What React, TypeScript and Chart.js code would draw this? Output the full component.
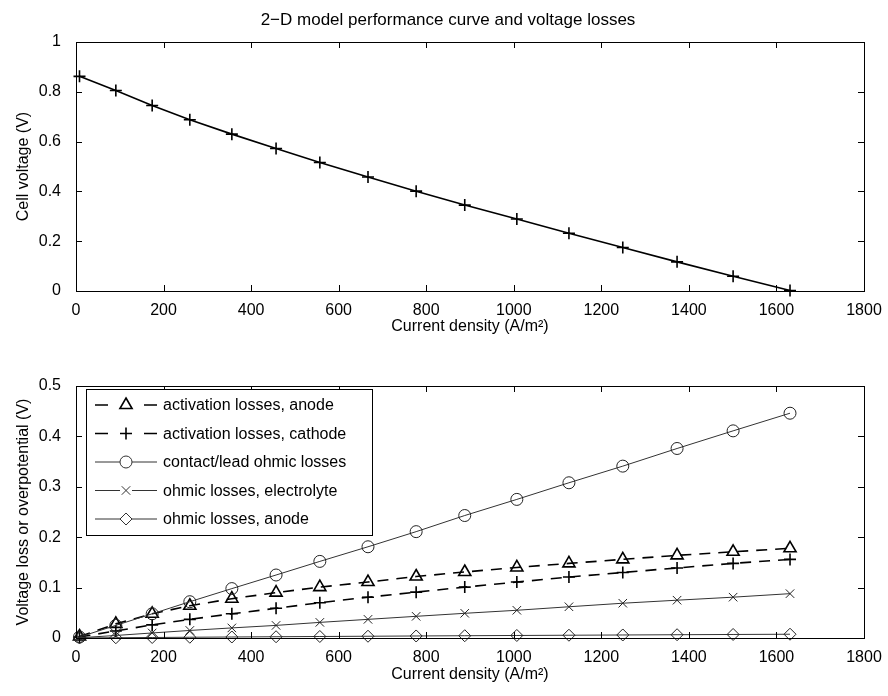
import React, { useEffect, useRef } from 'react';
import { Chart, registerables } from 'chart.js';

Chart.register(...registerables);

// ---------- data ----------
const currentDensity = [8, 91, 174, 260, 356, 457, 557, 667, 777, 888, 1007, 1126, 1249, 1373, 1501, 1631];
const cellVoltage = [0.862, 0.805, 0.745, 0.688, 0.63, 0.572, 0.516, 0.458, 0.401, 0.345, 0.289, 0.232, 0.175, 0.117, 0.059, 0.002];
const actAnode = [0.003, 0.028, 0.048, 0.064, 0.078, 0.09, 0.101, 0.111, 0.122, 0.131, 0.14, 0.148, 0.156, 0.164, 0.171, 0.178];
const actCathode = [0.002, 0.014, 0.026, 0.037, 0.048, 0.059, 0.07, 0.081, 0.091, 0.101, 0.111, 0.121, 0.13, 0.139, 0.148, 0.156];
const contactOhmic = [0.002, 0.025, 0.048, 0.072, 0.098, 0.125, 0.152, 0.181, 0.211, 0.243, 0.275, 0.308, 0.341, 0.376, 0.411, 0.446];
const ohmicElectrolyte = [0.0005, 0.005, 0.01, 0.015, 0.02, 0.025, 0.031, 0.037, 0.043, 0.049, 0.055, 0.062, 0.069, 0.075, 0.081, 0.088];
const ohmicAnode = [0.0001, 0.0005, 0.001, 0.0015, 0.002, 0.0025, 0.003, 0.0035, 0.004, 0.0045, 0.005, 0.0055, 0.006, 0.0065, 0.007, 0.0075];

const xTicks = [0, 200, 400, 600, 800, 1000, 1200, 1400, 1600, 1800];
const topYTicks = [0, 0.2, 0.4, 0.6, 0.8, 1];
const bottomYTicks = [0, 0.1, 0.2, 0.3, 0.4, 0.5];

const titleText = '2\u2212D model performance curve and voltage losses';
const xTitleText = 'Current density (A/m\u00B2)';
const topYTitleText = 'Cell voltage (V)';
const bottomYTitleText = 'Voltage loss or overpotential (V)';
const legendLabels = [
  'activation losses, anode',
  'activation losses, cathode',
  'contact/lead ohmic losses',
  'ohmic losses, electrolyte',
  'ohmic losses, anode',
];
const legendStyles = ['triangle', 'cross', 'circle', 'crossRot', 'rectRot'];
const legendDashed = [true, true, false, false, false];

// ---------- styling ----------
const FONT_FAMILY = '"Liberation Sans", Arial, Helvetica, sans-serif';
const FONT_SIZE = 16;
const W = 888;
const TOP_H = 345;
const BOT_H = 351;

function drawMarker(ctx: CanvasRenderingContext2D, style: string, x: number, y: number, r: number) {
  ctx.beginPath();
  if (style === 'triangle') {
    ctx.moveTo(x, y - r);
    ctx.lineTo(x + r * 0.866, y + r * 0.5);
    ctx.lineTo(x - r * 0.866, y + r * 0.5);
    ctx.closePath();
  } else if (style === 'cross') {
    ctx.moveTo(x - r, y);
    ctx.lineTo(x + r, y);
    ctx.moveTo(x, y - r);
    ctx.lineTo(x, y + r);
  } else if (style === 'circle') {
    ctx.arc(x, y, r, 0, Math.PI * 2);
  } else if (style === 'crossRot') {
    const d = r * 0.707;
    ctx.moveTo(x - d, y - d);
    ctx.lineTo(x + d, y + d);
    ctx.moveTo(x + d, y - d);
    ctx.lineTo(x - d, y + d);
  } else if (style === 'rectRot') {
    ctx.moveTo(x, y - r);
    ctx.lineTo(x + r, y);
    ctx.lineTo(x, y + r);
    ctx.lineTo(x - r, y);
    ctx.closePath();
  }
  ctx.stroke();
}

function makeFramePlugin(cfg: {
  title?: string;
  yTitle: string;
  yTicks: number[];
  xTitleOffset: number;
  legend?: boolean;
}) {
  return {
    id: 'matlabFrame',
    afterDraw(chart: any) {
      const ctx: CanvasRenderingContext2D = chart.ctx;
      const { left, right, top, bottom } = chart.chartArea;
      const xs = chart.scales.x;
      const ys = chart.scales.y;
      ctx.save();
      // box
      ctx.strokeStyle = '#000';
      ctx.lineWidth = 1;
      ctx.strokeRect(Math.round(left) + 0.5, Math.round(top) + 0.5, Math.round(right - left), Math.round(bottom - top));
      // inward ticks
      const tl = 6;
      ctx.beginPath();
      xTicks.forEach((v) => {
        const px = Math.round(xs.getPixelForValue(v)) + 0.5;
        ctx.moveTo(px, bottom);
        ctx.lineTo(px, bottom - tl);
        ctx.moveTo(px, top);
        ctx.lineTo(px, top + tl);
      });
      cfg.yTicks.forEach((v) => {
        const py = Math.round(ys.getPixelForValue(v)) + 0.5;
        ctx.moveTo(left, py);
        ctx.lineTo(left + tl, py);
        ctx.moveTo(right, py);
        ctx.lineTo(right - tl, py);
      });
      ctx.stroke();

      ctx.fillStyle = '#000';
      ctx.font = `${FONT_SIZE}px ${FONT_FAMILY}`;
      ctx.textAlign = 'center';
      ctx.textBaseline = 'middle';
      const midX = (left + right) / 2;
      // title
      if (cfg.title) {
        ctx.save();
        ctx.font = `17px ${FONT_FAMILY}`;
        ctx.fillText(cfg.title, midX - 22, 20);
        ctx.restore();
      }
      // x title
      ctx.fillText(xTitleText, midX, bottom + cfg.xTitleOffset);
      // y title
      ctx.save();
      ctx.translate(24, (top + bottom) / 2);
      ctx.rotate(-Math.PI / 2);
      ctx.fillText(cfg.yTitle, 0, 0);
      ctx.restore();

      // legend
      if (cfg.legend) {
        const bx = 86;
        const by = top + 3;
        const bw = 286;
        const bh = 146;
        ctx.fillStyle = '#fff';
        ctx.fillRect(bx, by, bw, bh);
        ctx.strokeStyle = '#000';
        ctx.lineWidth = 1;
        ctx.strokeRect(bx + 0.5, by + 0.5, bw, bh);
        legendLabels.forEach((label, i) => {
          const y = by + 16 + i * 28.5;
          const x0 = bx + 9;
          const x1 = bx + 71;
          const mx = (x0 + x1) / 2;
          ctx.strokeStyle = legendDashed[i] ? '#000' : '#333';
          ctx.lineWidth = legendDashed[i] ? 1.6 : 1;
          ctx.beginPath();
          if (legendDashed[i]) {
            ctx.moveTo(x0, y);
            ctx.lineTo(x0 + 13, y);
            ctx.moveTo(x1 - 13, y);
            ctx.lineTo(x1, y);
          } else {
            ctx.moveTo(x0, y);
            ctx.lineTo(mx - 6, y);
            ctx.moveTo(mx + 6, y);
            ctx.lineTo(x1, y);
          }
          ctx.stroke();
          const r = legendStyles[i] === 'triangle' ? 7 : 6;
          drawMarker(ctx, legendStyles[i], mx, y, r);
          ctx.fillStyle = '#000';
          ctx.textAlign = 'left';
          ctx.fillText(label, bx + 77, y + 1);
        });
      }
      ctx.restore();
    },
  };
}

function makeScales(yTicks: number[], yMax: number, xHeight: number) {
  const font = { family: FONT_FAMILY, size: FONT_SIZE };
  return {
    x: {
      type: 'linear' as const,
      min: 0,
      max: 1800,
      afterBuildTicks: (s: any) => {
        s.ticks = xTicks.map((v) => ({ value: v }));
      },
      afterFit: (s: any) => {
        s.height = xHeight;
      },
      ticks: {
        callback: (v: any) => String(v),
        font,
        color: '#000',
        padding: 2,
        maxRotation: 0,
        autoSkip: false,
      },
      grid: { display: false },
      border: { display: false },
    },
    y: {
      type: 'linear' as const,
      min: 0,
      max: yMax,
      afterBuildTicks: (s: any) => {
        s.ticks = yTicks.map((v) => ({ value: v }));
      },
      afterFit: (s: any) => {
        s.width = 76;
      },
      ticks: {
        callback: (v: any) => String(v),
        font,
        color: '#000',
        padding: 7,
        autoSkip: false,
      },
      grid: { display: false },
      border: { display: false },
    },
  };
}

function toPoints(ys: number[]) {
  return currentDensity.map((x, i) => ({ x, y: ys[i] }));
}

export default function App() {
  const topRef = useRef<HTMLCanvasElement>(null);
  const botRef = useRef<HTMLCanvasElement>(null);

  useEffect(() => {
    const common = {
      responsive: false,
      animation: false as const,
      events: [] as any[],
      plugins: { legend: { display: false }, tooltip: { enabled: false }, title: { display: false } },
    };

    const top = new Chart(topRef.current!, {
      type: 'line',
      data: {
        datasets: [
          {
            data: toPoints(cellVoltage),
            borderColor: '#000',
            borderWidth: 1.6,
            pointStyle: 'cross',
            pointRadius: 6,
            pointBorderWidth: 1.6,
            pointBorderColor: '#000',
            pointBackgroundColor: 'transparent',
            tension: 0,
            clip: false as any,
          },
        ],
      },
      options: {
        ...common,
        parsing: false as any,
        layout: { padding: { top: 42, right: W - 864, left: 0, bottom: 0 } },
        scales: makeScales(topYTicks, 1, TOP_H - 291) as any,
      },
      plugins: [makeFramePlugin({ title: titleText, yTitle: topYTitleText, yTicks: topYTicks, xTitleOffset: 36 })],
    });

    const thin = {
      borderColor: '#333',
      borderWidth: 1,
      pointBorderColor: '#222',
      pointBorderWidth: 1,
      pointBackgroundColor: 'transparent',
      tension: 0,
      clip: false as any,
    };
    const dashed = {
      borderColor: '#000',
      borderWidth: 1.6,
      borderDash: [11, 8],
      pointBorderColor: '#000',
      pointBorderWidth: 1.6,
      pointBackgroundColor: 'transparent',
      tension: 0,
      clip: false as any,
    };

    const bot = new Chart(botRef.current!, {
      type: 'line',
      data: {
        datasets: [
          { ...thin, label: legendLabels[4], data: toPoints(ohmicAnode), pointStyle: 'rectRot', pointRadius: 6 },
          { ...thin, label: legendLabels[3], data: toPoints(ohmicElectrolyte), pointStyle: 'crossRot', pointRadius: 6 },
          { ...thin, label: legendLabels[2], data: toPoints(contactOhmic), pointStyle: 'circle', pointRadius: 6 },
          { ...dashed, label: legendLabels[1], data: toPoints(actCathode), pointStyle: 'cross', pointRadius: 6 },
          { ...dashed, label: legendLabels[0], data: toPoints(actAnode), pointStyle: 'triangle', pointRadius: 7 },
        ],
      },
      options: {
        ...common,
        parsing: false as any,
        layout: { padding: { top: 41, right: W - 864, left: 0, bottom: 0 } },
        scales: makeScales(bottomYTicks, 0.5, BOT_H - 293) as any,
      },
      plugins: [makeFramePlugin({ yTitle: bottomYTitleText, yTicks: bottomYTicks, xTitleOffset: 37, legend: true })],
    });

    return () => {
      top.destroy();
      bot.destroy();
    };
  }, []);

  return (
    <div style={{ position: 'fixed', left: 0, top: 0, width: W, height: 696, background: '#fff' }}>
      <canvas ref={topRef} width={W} height={TOP_H} style={{ position: 'absolute', left: 0, top: 0, display: 'block' }} />
      <canvas ref={botRef} width={W} height={BOT_H} style={{ position: 'absolute', left: 0, top: TOP_H, display: 'block' }} />
    </div>
  );
}
